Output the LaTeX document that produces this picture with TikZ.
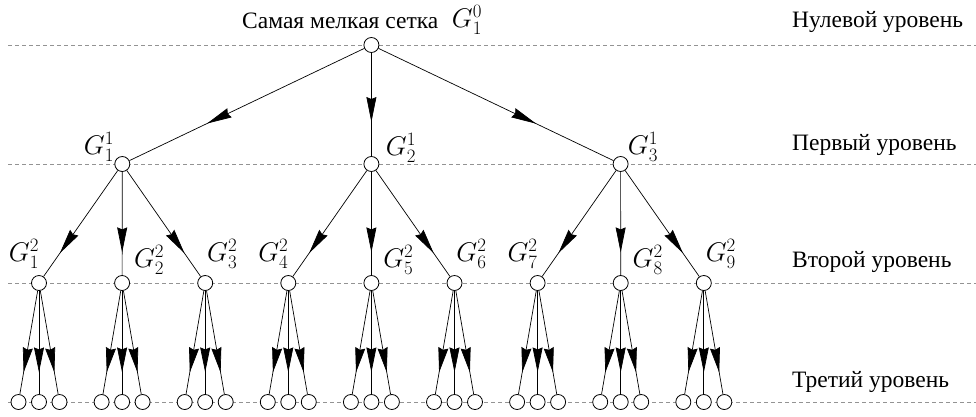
\RequirePackage{fix-cm}
\documentclass[tikz,border=0pt]{standalone}
\usepackage[no-math]{fontspec}
\setmainfont{Liberation Serif}
\newfontfamily\ruserif{Liberation Serif}
\usetikzlibrary{arrows.meta,decorations.markings,calc}
\begin{document}
\begin{tikzpicture}[x=1pt,y=-1pt,
  vert/.style={circle,draw,fill=white,inner sep=0pt,minimum size=15pt,line width=0.8pt},
  lvl/.style={draw=gray!85,dash pattern=on 4pt off 3pt,line width=0.8pt},
  arr/.style={line width=0.7pt,postaction={decorate},decoration={markings,mark=at position #1 with {\arrow{Stealth[length=25pt,width=10pt,inset=2pt]}}}},
  lab/.style={font=\fontsize{27}{32}\selectfont,inner sep=0pt},
  txt/.style={font=\ruserif\fontsize{23.5}{28}\selectfont,inner sep=0pt,anchor=base west}]
\useasboundingbox (0,0) rectangle (976,416);
% level lines
\foreach \k/\y in {0/45,1/164,2/283,3/402}{
  \coordinate (ls\k) at (8,\y);
  \coordinate (le\k) at (976,\y);
  \draw[lvl] (ls\k) -- (le\k);
}
% level captions
\node[txt] (t0) at (792,27) {Нулевой уровень};
\node[txt] (t1) at (792,150) {Первый уровень};
\node[txt] (t2) at (792,267) {Второй уровень};
\node[txt] (t3) at (792,387) {Третий уровень};
% root
\node[vert] (r) at (371.4,45) {};
\node[txt] (rt) at (242,28) {Самая мелкая сетка};
\node[lab] (rl) at (467,20) {$G_1^0$};
% level 1
\node[vert] (a1) at (122.3,164) {};
\node[vert] (a2) at (371.4,164) {};
\node[vert] (a3) at (620.6,164) {};
\node[lab] (la1) at (99,147) {$G_1^1$};
\node[lab] (la2) at (401,148) {$G_2^1$};
\node[lab] (la3) at (643,147) {$G_3^1$};
% level 2
\foreach \i in {1,...,9}{
  \node[vert] (b\i) at ({39+83.1*(\i-1)},283) {};
  \foreach \j/\d in {1/-20.5,2/0,3/20.5}{
    \node[vert] (c\i\j) at ({39+83.1*(\i-1)+\d},402) {};
  }
}
\foreach \i in {1,4,7}{
  \node[lab] (lb\i) at ($(b\i)+(-15,-29)$) {$G_{\i}^2$};
}
\foreach \i in {2,5,8}{
  \node[lab] (lb\i) at ($(b\i)+(27,-23)$) {$G_{\i}^2$};
}
\foreach \i in {3,6,9}{
  \node[lab] (lb\i) at ($(b\i)+(17,-29)$) {$G_{\i}^2$};
}
% edges
\foreach \a in {1,2,3}{
  \draw[arr=0.67] (r) -- (a\a);
}
\foreach \a/\p/\q/\s in {1/1/2/3,2/4/5/6,3/7/8/9}{
  \draw[arr=0.78] (a\a) -- (b\p);
  \draw[arr=0.78] (a\a) -- (b\q);
  \draw[arr=0.78] (a\a) -- (b\s);
}
\foreach \i in {1,...,9}{
  \foreach \j in {1,2,3}{
    \draw[arr=0.79] (b\i) -- (c\i\j);
  }
}
\end{tikzpicture}
\end{document}
